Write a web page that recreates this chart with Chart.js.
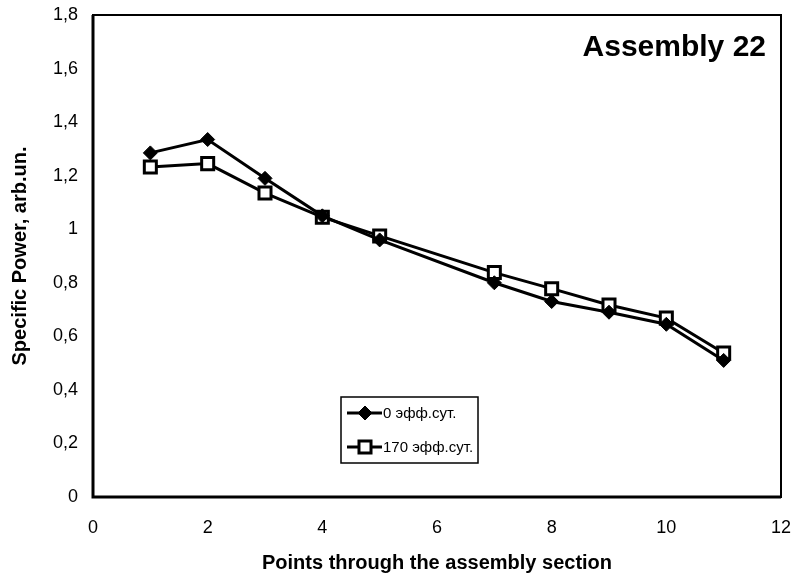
<!DOCTYPE html>
<html>
<head>
<meta charset="utf-8">
<script src="https://cdn.jsdelivr.net/npm/chart.js@4/dist/chart.umd.min.js"></script>
<style>
  html, body { margin: 0; padding: 0; background: #fff; }
  #wrap { width: 796px; height: 581px; position: relative; }
</style>
</head>
<body>
<div id="wrap"><canvas id="powerChart"></canvas></div>
<script>
// data
const points = [1, 2, 3, 4, 5, 7, 8, 9, 10, 11];
const power0 = [1.285, 1.335, 1.19, 1.05, 0.96, 0.80, 0.73, 0.69, 0.645, 0.51];
const power170 = [1.232, 1.245, 1.135, 1.045, 0.975, 0.838, 0.778, 0.717, 0.668, 0.538];
const seriesNames = ['0 эфф.сут.', '170 эфф.сут.'];
const chartTitle = 'Assembly 22';

const FONT = '"Liberation Sans", Arial, sans-serif';

function toXY(ys) {
  return points.map((x, i) => ({ x: x, y: ys[i] }));
}

// frame, title and legend drawn inside the plot area
const framePlugin = {
  id: 'frame',
  afterDraw(chart) {
    const ctx = chart.ctx;
    const a = chart.chartArea;
    ctx.save();
    ctx.strokeStyle = '#000';
    ctx.lineWidth = 2;
    ctx.strokeRect(a.left, a.top, a.right - a.left, a.bottom - a.top);
    ctx.lineWidth = 3;
    ctx.beginPath();
    ctx.moveTo(a.left, a.top);
    ctx.lineTo(a.left, a.bottom);
    ctx.lineTo(a.right, a.bottom);
    ctx.stroke();

    // title
    ctx.fillStyle = '#000';
    ctx.font = 'bold 30px ' + FONT;
    ctx.textAlign = 'right';
    ctx.textBaseline = 'middle';
    ctx.fillText(chartTitle, 766, 48);

    // legend box
    const lx = 341, ly = 397, lw = 137, lh = 66;
    ctx.fillStyle = '#fff';
    ctx.fillRect(lx, ly, lw, lh);
    ctx.strokeStyle = '#000';
    ctx.lineWidth = 1.5;
    ctx.strokeRect(lx, ly, lw, lh);
    ctx.font = '15px ' + FONT;
    ctx.textAlign = 'left';
    chart.data.datasets.forEach((ds, i) => {
      const cy = ly + 16 + i * 34;
      ctx.strokeStyle = '#000';
      ctx.lineWidth = 3;
      ctx.beginPath();
      ctx.moveTo(lx + 6, cy);
      ctx.lineTo(lx + 41, cy);
      ctx.stroke();
      ctx.fillStyle = ds.pointBackgroundColor;
      ctx.strokeStyle = ds.pointBorderColor;
      ctx.lineWidth = ds.pointBorderWidth;
      Chart.helpers.drawPoint(ctx, {
        pointStyle: ds.pointStyle,
        radius: ds.pointRadius,
        borderWidth: ds.pointBorderWidth,
        rotation: 0
      }, lx + 24, cy);
      ctx.fillStyle = '#000';
      ctx.fillText(ds.label, lx + 42, cy + 1);
    });
    ctx.restore();
  }
};

const ctx = document.getElementById('powerChart').getContext('2d');
new Chart(ctx, {
  type: 'line',
  data: {
    datasets: [
      {
        label: seriesNames[0],
        data: toXY(power0),
        borderColor: '#000',
        borderWidth: 3,
        pointStyle: 'rectRot',
        pointRadius: 7,
        pointBackgroundColor: '#000',
        pointBorderColor: '#000',
        pointBorderWidth: 1,
        tension: 0
      },
      {
        label: seriesNames[1],
        data: toXY(power170),
        borderColor: '#000',
        borderWidth: 3,
        pointStyle: 'rect',
        pointRadius: 8.5,
        pointBackgroundColor: '#fff',
        pointBorderColor: '#000',
        pointBorderWidth: 3,
        tension: 0
      }
    ]
  },
  options: {
    responsive: true,
    maintainAspectRatio: false,
    animation: false,
    layout: { padding: { left: 0, right: 15, top: 15, bottom: 0 } },
    plugins: {
      legend: { display: false },
      tooltip: { enabled: false }
    },
    scales: {
      x: {
        type: 'linear',
        min: 0,
        max: 12,
        ticks: {
          stepSize: 2,
          color: '#000',
          font: { family: FONT, size: 18 },
          padding: 15,
          maxRotation: 0
        },
        grid: { display: false, drawTicks: true, tickLength: 5, color: '#000' },
        border: { display: false },
        title: {
          display: true,
          text: 'Points through the assembly section',
          color: '#000',
          font: { family: FONT, size: 20, weight: 'bold' },
          padding: { top: 0, bottom: 6 }
        },
        afterFit(scale) {
          scale.height = 84;
          scale.paddingLeft = 0;
          scale.paddingRight = 0;
        }
      },
      y: {
        min: 0,
        max: 1.8,
        ticks: {
          stepSize: 0.2,
          color: '#000',
          font: { family: FONT, size: 18 },
          padding: 9,
          callback: v => String(Number(v.toFixed(1))).replace('.', ',')
        },
        grid: { display: false, drawTicks: true, tickLength: 6, color: '#000' },
        border: { display: false },
        title: {
          display: true,
          text: 'Specific Power, arb.un.',
          color: '#000',
          font: { family: FONT, size: 20, weight: 'bold' },
          padding: { top: 8, bottom: 0 }
        },
        afterFit(scale) {
          scale.width = 93;
          scale.paddingTop = 0;
          scale.paddingBottom = 0;
        }
      }
    }
  },
  plugins: [framePlugin]
});
</script>
</body>
</html>
